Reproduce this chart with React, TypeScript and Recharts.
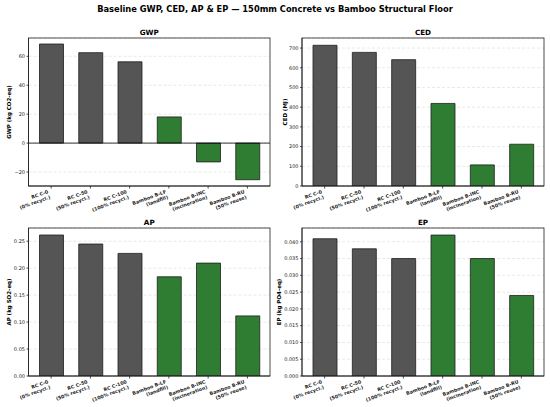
import {
  Bar,
  BarChart,
  CartesianGrid,
  Cell,
  ReferenceLine,
  XAxis,
  YAxis,
} from "recharts";

// scenarios on the x axis (two-line labels)
const categories = [
  "RC C-0\n(0% recycl.)",
  "RC C-50\n(50% recycl.)",
  "RC C-100\n(100% recycl.)",
  "Bamboo B-LF\n(landfill)",
  "Bamboo B-INC\n(incineration)",
  "Bamboo B-RU\n(50% reuse)",
];
const materials = ["concrete", "concrete", "concrete", "bamboo", "bamboo", "bamboo"];

// impact values per scenario
const gwpValues = [68.5, 62.5, 56.2, 18.1, -13.0, -25.3];
const cedValues = [714, 678, 641, 419, 107, 212];
const apValues = [0.2615, 0.2448, 0.2274, 0.184, 0.2094, 0.1115];
const epValues = [0.0409, 0.0379, 0.035, 0.042, 0.035, 0.024];

// tick labels
const gwpTicks = [-20, 0, 20, 40, 60];
const cedTicks = [0, 100, 200, 300, 400, 500, 600, 700];
const apTicks = [0, 0.05, 0.1, 0.15, 0.2, 0.25];
const epTicks = [0, 0.005, 0.01, 0.015, 0.02, 0.025, 0.03, 0.035, 0.04];

const MATERIAL_COLORS: Record<string, string> = {
  concrete: "#555555",
  bamboo: "#2e7d32",
};

const FONT = "DejaVu Sans";
const TEXT = "#222";

const minus = (s: string) => s.replace("-", "\u2212");

interface Panel {
  title: string;
  yLabel: string;
  values: number[];
  ticks: number[];
  domain: [number, number];
  fmt: (v: number) => string;
  left: number;
  top: number;
  height: number;
  xAxisHeight: number;
  yAxisWidth: number;
  marginRight: number;
  labelX: number;
  zeroLine?: boolean;
}

const panels: Panel[] = [
  {
    title: "GWP",
    yLabel: "GWP (kg CO2-eq)",
    values: gwpValues,
    ticks: gwpTicks,
    domain: [-29.65, 72.65],
    fmt: (v) => minus(String(v)),
    left: 0,
    top: 24,
    height: 200,
    xAxisHeight: 38,
    yAxisWidth: 28.5,
    marginRight: 5,
    labelX: 9,
    zeroLine: true,
  },
  {
    title: "CED",
    yLabel: "CED (MJ)",
    values: cedValues,
    ticks: cedTicks,
    domain: [0, 751],
    fmt: (v) => String(v),
    left: 275,
    top: 24,
    height: 200,
    xAxisHeight: 38,
    yAxisWidth: 27,
    marginRight: 6,
    labelX: 285,
  },
  {
    title: "AP",
    yLabel: "AP (kg SO2-eq)",
    values: apValues,
    ticks: apTicks,
    domain: [0, 0.2745],
    fmt: (v) => v.toFixed(2),
    left: 0,
    top: 214,
    height: 193,
    xAxisHeight: 31,
    yAxisWidth: 28.5,
    marginRight: 5,
    labelX: 9,
  },
  {
    title: "EP",
    yLabel: "EP (kg PO4-eq)",
    values: epValues,
    ticks: epTicks,
    domain: [0, 0.0441],
    fmt: (v) => v.toFixed(3),
    left: 275,
    top: 214,
    height: 193,
    xAxisHeight: 31,
    yAxisWidth: 27,
    marginRight: 6,
    labelX: 279,
  },
];

function CategoryTick(props: any) {
  const { x, y, payload } = props;
  const [first, second] = String(payload.value).split("\n");
  return (
    <g transform={`translate(${x - 3.5},${y + 1.5}) rotate(-20)`}>
      <text
        textAnchor="end"
        fontSize={4.8}
        fontWeight="bold"
        fontFamily={FONT}
        fill={TEXT}
      >
        <tspan x={0} y={3.2}>
          {first}
        </tspan>
        <tspan x={0} y={9}>
          {second}
        </tspan>
      </text>
    </g>
  );
}

function ImpactPanel({ panel }: { panel: Panel }) {
  const data = categories.map((name, i) => ({
    name,
    value: panel.values[i],
    material: materials[i],
  }));
  const tickStyle = { fontSize: 5, fill: TEXT, fontFamily: FONT };

  return (
    <div style={{ position: "absolute", left: panel.left, top: panel.top }}>
      <BarChart
        width={275}
        height={panel.height}
        data={data}
        margin={{ top: 14, right: panel.marginRight, bottom: 0, left: 0 }}
      >
        <CartesianGrid
          vertical={false}
          stroke="#dadada"
          strokeDasharray="3 2"
          strokeWidth={0.6}
        />
        <XAxis
          dataKey="name"
          interval={0}
          height={panel.xAxisHeight}
          padding={{ left: 3, right: 3 }}
          tick={<CategoryTick />}
          tickSize={2.5}
          tickMargin={0}
          stroke="#222"
          strokeWidth={0.8}
        />
        <YAxis
          width={panel.yAxisWidth}
          domain={panel.domain}
          ticks={panel.ticks}
          allowDataOverflow
          interval={0}
          tickFormatter={panel.fmt}
          tick={tickStyle}
          tickSize={2}
          tickMargin={1.5}
          stroke="#222"
          strokeWidth={0.8}
        />
        {panel.zeroLine && (
          <ReferenceLine y={0} stroke="#000" strokeWidth={0.8} />
        )}
        <Bar
          dataKey="value"
          barSize={24}
          stroke="#1e1e1e"
          strokeWidth={0.8}
          isAnimationActive={false}
        >
          {data.map((d) => (
            <Cell key={d.name} fill={MATERIAL_COLORS[d.material]} />
          ))}
        </Bar>
      </BarChart>
    </div>
  );
}

export default function App() {
  return (
    <div
      style={{
        position: "absolute",
        left: 0,
        top: 0,
        width: 550,
        height: 407,
        background: "#fff",
        overflow: "hidden",
      }}
    >
      {panels.map((p) => (
        <ImpactPanel key={p.title} panel={p} />
      ))}
      <svg
        width={550}
        height={407}
        style={{ position: "absolute", left: 0, top: 0, pointerEvents: "none" }}
        fontFamily={FONT}
        fill="#000"
      >
        <text x={275} y={11.5} textAnchor="middle" fontSize={8.3} fontWeight="bold">
          Baseline GWP, CED, AP &amp; EP — 150mm Concrete vs Bamboo Structural Floor
        </text>
        {panels.map((p) => {
          const plotLeft = p.left + p.yAxisWidth;
          const plotRight = p.left + 275 - p.marginRight;
          const plotTop = p.top + 14;
          const plotBottom = p.top + p.height - p.xAxisHeight;
          const cy = (plotTop + plotBottom) / 2;
          return (
            <g key={p.title}>
              {/* axes frame (spines) */}
              <rect
                x={plotLeft}
                y={plotTop}
                width={plotRight - plotLeft}
                height={plotBottom - plotTop}
                fill="none"
                stroke="#222"
                strokeWidth={0.8}
              />
              <text
                x={(plotLeft + plotRight) / 2}
                y={plotTop - 3}
                textAnchor="middle"
                fontSize={7.2}
                fontWeight="bold"
              >
                {p.title}
              </text>
              <text
                transform={`translate(${p.labelX + 2},${cy}) rotate(-90)`}
                textAnchor="middle"
                fontSize={5.5}
                fontWeight="bold"
              >
                {p.yLabel}
              </text>
            </g>
          );
        })}
      </svg>
    </div>
  );
}
